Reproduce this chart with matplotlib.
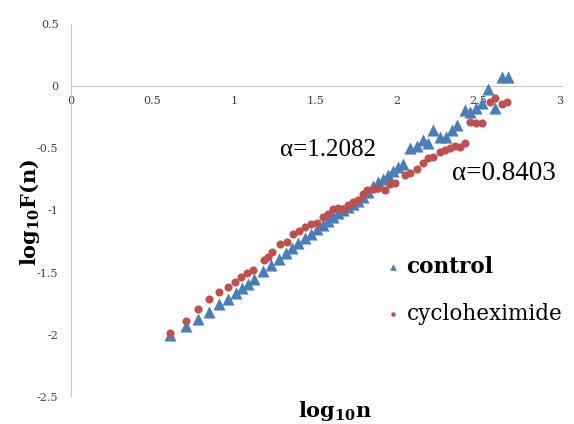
import matplotlib
matplotlib.use('Agg')
import matplotlib.pyplot as plt

# log10(n) and log10(F(n))
control_x = [0.607, 0.706, 0.779, 0.847, 0.908, 0.963, 1.012, 1.049, 1.086, 1.123,
             1.178, 1.227, 1.276, 1.319, 1.356, 1.393, 1.436, 1.472, 1.509, 1.546,
             1.577, 1.607, 1.638, 1.669, 1.699, 1.730, 1.761, 1.791, 1.822, 1.853,
             1.883, 1.914, 1.945, 1.975, 2.006, 2.037, 2.080, 2.123, 2.160, 2.190,
             2.221, 2.264, 2.301, 2.337, 2.368, 2.417, 2.448, 2.485, 2.521, 2.558,
             2.601, 2.644, 2.681]
control_y = [-2.000, -1.928, -1.871, -1.815, -1.751, -1.711, -1.663, -1.622, -1.590, -1.550,
             -1.486, -1.438, -1.390, -1.341, -1.301, -1.261, -1.221, -1.189, -1.149, -1.116,
             -1.084, -1.052, -1.020, -0.996, -0.972, -0.948, -0.924, -0.892, -0.851, -0.803,
             -0.771, -0.747, -0.715, -0.683, -0.651, -0.627, -0.498, -0.482, -0.434, -0.458,
             -0.353, -0.410, -0.410, -0.353, -0.313, -0.193, -0.209, -0.177, -0.137, -0.024,
             -0.177, 0.072, 0.072]

chx_x = [0.607, 0.706, 0.779, 0.847, 0.908, 0.963, 1.006, 1.043, 1.080, 1.117,
         1.184, 1.209, 1.233, 1.282, 1.325, 1.362, 1.399, 1.436, 1.472, 1.509,
         1.546, 1.577, 1.607, 1.638, 1.669, 1.699, 1.730, 1.761, 1.791, 1.816,
         1.853, 1.883, 1.926, 1.957, 1.988, 2.049, 2.080, 2.123, 2.160, 2.190,
         2.221, 2.264, 2.294, 2.325, 2.356, 2.387, 2.417, 2.448, 2.485, 2.521,
         2.571, 2.601, 2.644, 2.675]
chx_y = [-1.984, -1.888, -1.791, -1.711, -1.655, -1.614, -1.574, -1.534, -1.502, -1.478,
         -1.398, -1.373, -1.333, -1.269, -1.253, -1.189, -1.165, -1.133, -1.108, -1.100,
         -1.052, -1.028, -0.988, -0.980, -0.988, -0.956, -0.932, -0.916, -0.867, -0.835,
         -0.827, -0.819, -0.835, -0.787, -0.779, -0.715, -0.699, -0.667, -0.618, -0.578,
         -0.570, -0.530, -0.514, -0.498, -0.482, -0.490, -0.458, -0.289, -0.297, -0.297,
         -0.129, -0.096, -0.145, -0.129]

x_ticks = [0, 0.5, 1, 1.5, 2, 2.5, 3]
y_ticks = [0.5, 0, -0.5, -1, -1.5, -2, -2.5]

BLUE = '#4a7ebb'
RED = '#c0504d'
GRID = '#c8c8c8'

plt.rcParams['mathtext.fontset'] = 'dejavuserif'

fig = plt.figure(figsize=(5.74, 4.24), dpi=100)
ax = fig.add_axes([71 / 574, 1 - 397 / 424, (560 - 71) / 574, (397 - 24) / 424])

ax.scatter(control_x, control_y, marker='^', s=76, color=BLUE, label='control',
           linewidths=0, zorder=3)
ax.scatter(chx_x, chx_y, marker='o', s=34, color=RED, label='cycloheximide',
           linewidths=0, zorder=3)

ax.set_xlim(0, 3)
ax.set_ylim(-2.5, 0.5)
ax.set_xticks(x_ticks)
ax.set_yticks(y_ticks)
ax.set_xticklabels([f'{t:g}' for t in x_ticks])
ax.set_yticklabels([f'{t:g}' for t in y_ticks])

for s in ['top', 'right']:
    ax.spines[s].set_visible(False)
ax.spines['bottom'].set_position(('data', 0))
ax.spines['bottom'].set_color(GRID)
ax.spines['left'].set_color(GRID)
ax.spines['bottom'].set_bounds(0, 3.01)
ax.tick_params(length=0, labelsize=8, labelcolor='#404040')
ax.tick_params(axis='x', pad=7)
ax.tick_params(axis='y', pad=9)
for lab in ax.get_xticklabels() + ax.get_yticklabels():
    lab.set_family('DejaVu Serif')

fig.text(0.053, 0.50, r'$\mathbf{log_{10}F(n)}$', rotation=90, fontsize=15,
         ha='center', va='center')
fig.text(0.583, 0.03, r'$\mathbf{log_{10}n}$', fontsize=15, ha='center', va='center')

ax.text(1.28, -0.51, 'α=1.2082', fontsize=18, family='Liberation Serif', va='center')
ax.text(2.34, -0.70, 'α=0.8403', fontsize=19.5, family='Liberation Serif', va='center')

leg = ax.legend(loc='upper left', bbox_to_anchor=(0.633, 0.442), bbox_transform=fig.transFigure,
                frameon=False, markerscale=0.55, handletextpad=0.1, labelspacing=1.15,
                handlelength=1.0, prop={'family': 'DejaVu Serif', 'size': 15.5})
leg.get_texts()[0].set_fontweight('bold')

fig.savefig('out.png', dpi=100)
